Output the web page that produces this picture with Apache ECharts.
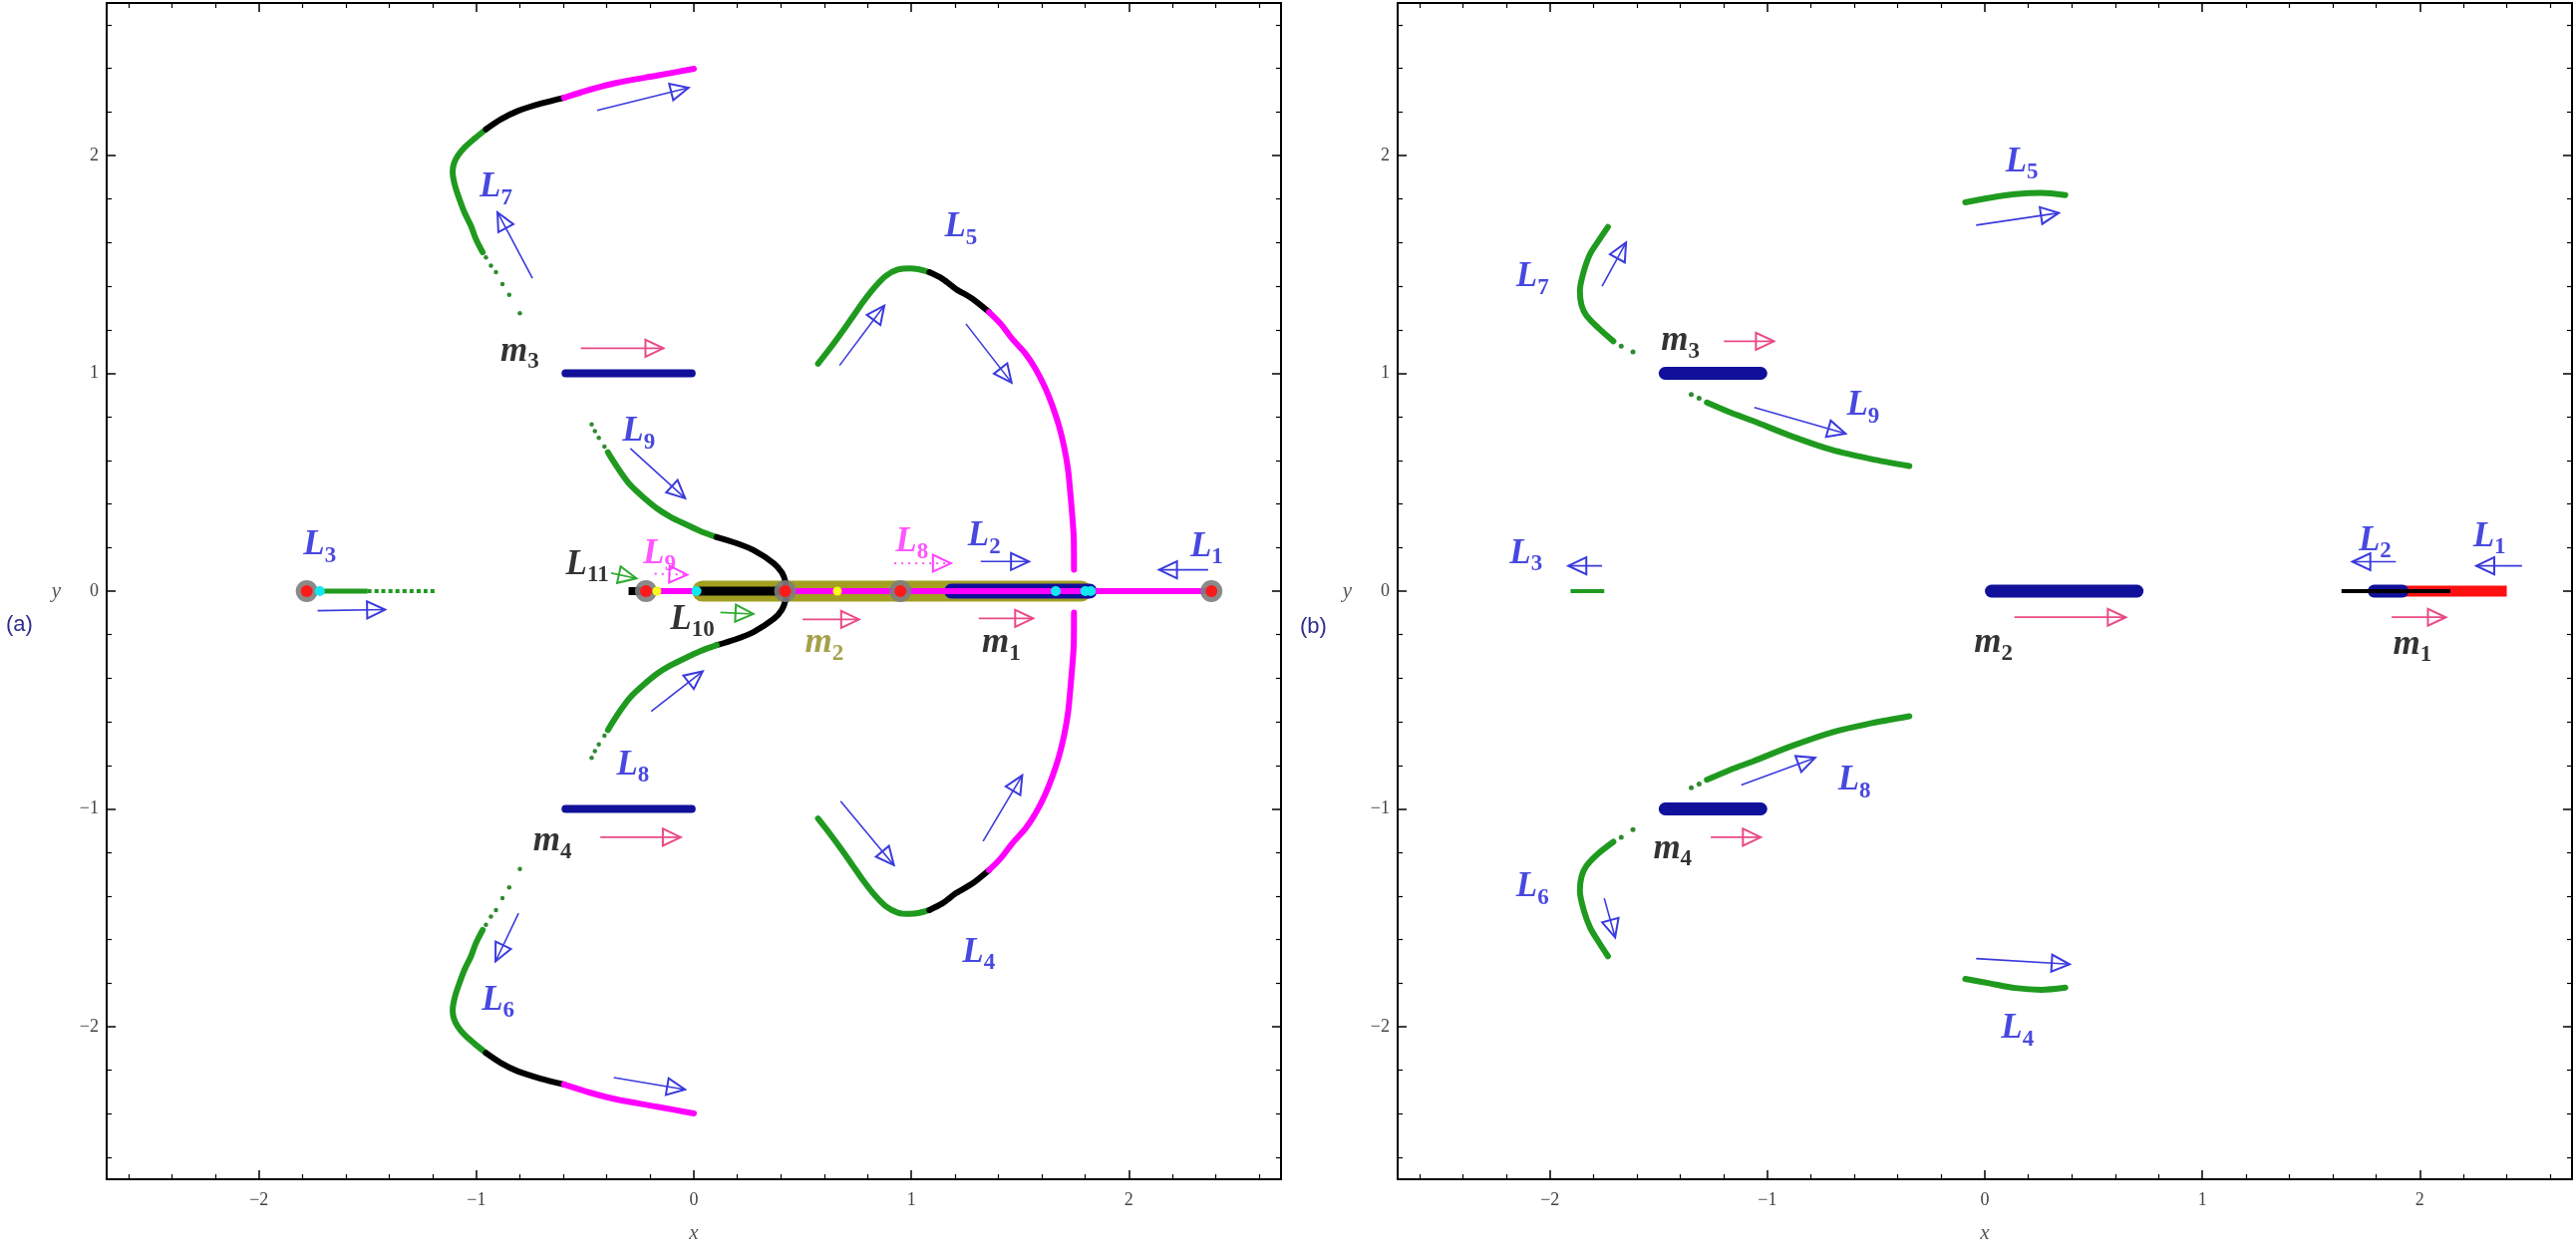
<!DOCTYPE html>
<html><head><meta charset="utf-8">
<script src="https://cdn.jsdelivr.net/npm/echarts@6/dist/echarts.min.js"></script>
<style>html,body{margin:0;padding:0;background:#fff}#c{width:2584px;height:1263px}</style>
</head><body><div id="c"></div><script>
// ---------- tick positions / labels ----------
const majorTicks = [-2, -1, 0, 1, 2];
const minorTicks = [-2.6,-2.4,-2.2,-1.8,-1.6,-1.4,-1.2,-0.8,-0.6,-0.4,-0.2,0.2,0.4,0.6,0.8,1.2,1.4,1.6,1.8,2.2,2.4,2.6];

// ---------- panel (a) curves ----------
const a_L7_dots    = [[-0.80,1.276],[-0.849,1.36],[-0.88,1.41],[-0.91,1.464],[-0.933,1.494],[-0.956,1.532]];
const a_L7_green   = [[-0.971,1.555],[-1.002,1.616],[-1.025,1.677],[-1.055,1.739],[-1.078,1.80],[-1.098,1.86],[-1.109,1.922],[-1.104,1.96],[-1.086,1.998],[-1.055,2.036],[-1.009,2.077],[-0.956,2.12]];
const a_L7_black   = [[-0.956,2.12],[-0.887,2.166],[-0.81,2.204],[-0.704,2.238],[-0.597,2.265]];
const a_L7_magenta = [[-0.597,2.265],[-0.475,2.303],[-0.353,2.334],[-0.169,2.367],[0.0,2.398]];
const a_L6_dots    = [[-0.80,-1.276],[-0.849,-1.36],[-0.88,-1.41],[-0.91,-1.464],[-0.933,-1.494],[-0.956,-1.532]];
const a_L6_green   = [[-0.971,-1.555],[-1.002,-1.616],[-1.025,-1.677],[-1.055,-1.739],[-1.078,-1.80],[-1.098,-1.86],[-1.109,-1.922],[-1.104,-1.96],[-1.086,-1.998],[-1.055,-2.036],[-1.009,-2.077],[-0.956,-2.12]];
const a_L6_black   = [[-0.956,-2.12],[-0.887,-2.166],[-0.81,-2.204],[-0.704,-2.238],[-0.597,-2.265]];
const a_L6_magenta = [[-0.597,-2.265],[-0.475,-2.303],[-0.353,-2.334],[-0.169,-2.367],[0.0,-2.398]];
const a_L9_dots    = [[-0.47,0.765],[-0.455,0.735],[-0.437,0.704],[-0.411,0.663]];
const a_L9_green   = [[-0.395,0.638],[-0.383,0.617],[-0.338,0.548],[-0.292,0.487],[-0.23,0.429],[-0.17,0.38],[-0.109,0.342],[-0.047,0.311],[0.029,0.276],[0.105,0.248]];
const a_L10_black  = [[0.105,0.248],[0.19,0.222],[0.274,0.188],[0.367,0.128],[0.405,0.085],[0.422,0.04],[0.426,0],[0.422,-0.04],[0.405,-0.085],[0.367,-0.128],[0.274,-0.188],[0.19,-0.222],[0.105,-0.248]];
const a_L8_green   = [[0.105,-0.248],[0.029,-0.276],[-0.047,-0.311],[-0.109,-0.342],[-0.17,-0.38],[-0.23,-0.429],[-0.292,-0.487],[-0.338,-0.548],[-0.383,-0.617],[-0.395,-0.638]];
const a_L8_dots    = [[-0.411,-0.663],[-0.437,-0.704],[-0.455,-0.735],[-0.47,-0.765]];
const a_L5_green   = [[0.571,1.044],[0.625,1.113],[0.670,1.174],[0.724,1.25],[0.777,1.326],[0.831,1.395],[0.884,1.448],[0.938,1.476],[0.991,1.482],[1.037,1.477],[1.083,1.464]];
const a_L5_black   = [[1.083,1.464],[1.144,1.433],[1.205,1.387],[1.281,1.342],[1.357,1.281]];
const a_L5_magenta = [[1.357,1.281],[1.411,1.227],[1.464,1.158],[1.525,1.09],[1.571,1.021],[1.614,0.937],[1.648,0.853],[1.678,0.762],[1.701,0.67],[1.72,0.563],[1.732,0.441],[1.741,0.334],[1.747,0.243],[1.748,0.098]];
const a_L4_green   = [[0.571,-1.044],[0.625,-1.113],[0.670,-1.174],[0.724,-1.25],[0.777,-1.326],[0.831,-1.395],[0.884,-1.448],[0.938,-1.476],[0.991,-1.482],[1.037,-1.477],[1.083,-1.464]];
const a_L4_black   = [[1.083,-1.464],[1.144,-1.433],[1.205,-1.387],[1.281,-1.342],[1.357,-1.281]];
const a_L4_magenta = [[1.357,-1.281],[1.411,-1.227],[1.464,-1.158],[1.525,-1.09],[1.571,-1.021],[1.614,-0.937],[1.648,-0.853],[1.678,-0.762],[1.701,-0.67],[1.72,-0.563],[1.732,-0.441],[1.741,-0.334],[1.747,-0.243],[1.748,-0.098]];
const a_L3_solid   = [[-1.74,0],[-1.50,0]];
const a_L3_dashed  = [[-1.50,0],[-1.18,0]];
const a_m3         = [[-0.59,1],[-0.01,1]];
const a_m4         = [[-0.59,-1],[-0.01,-1]];
const a_m2_band    = [[0.04,0],[1.78,0]];
const a_m1_band    = [[1.185,0],[1.82,0]];
const a_axisMag    = [[-0.22,0],[2.38,0]];
const a_blackSeg   = [[0.02,0],[0.40,0]];
const a_blackStub  = [[-0.30,0],[-0.23,0]];
const a_eqPts      = [[-1.78,0],[-0.22,0],[0.42,0],[0.95,0],[2.38,0]];
const a_cyanPts    = [[-1.72,0],[0.012,0],[1.664,0],[1.80,0],[1.825,0]];
const a_yellowPts  = [[-0.17,0],[0.66,0]];

// labels: [x, y, main, subscript]
const a_lblBlue  = [[-0.91,1.853,'L','7'],[1.228,1.67,'L','5'],[-0.253,0.731,'L','9'],[-0.28,-0.80,'L','8'],[-0.90,-1.88,'L','6'],[1.31,-1.66,'L','4'],[-1.72,0.21,'L','3'],[1.335,0.25,'L','2'],[2.358,0.203,'L','1']];
const a_lblBlack = [[-0.49,0.12,'L','11'],[-0.007,-0.131,'L','10'],[-0.80,1.10,'m','3'],[-0.65,-1.15,'m','4'],[1.414,-0.24,'m','1']];
const a_lblMag   = [[-0.158,0.17,'L','9'],[1.003,0.226,'L','8']];
const a_lblOlive = [[0.60,-0.24,'m','2']];

// arrows: [x1, y1, x2, y2]
const a_arrBlue = [[-0.445,2.207,-0.024,2.311],[-0.742,1.436,-0.903,1.739],[-0.292,0.655,-0.04,0.426],[-0.196,-0.552,0.041,-0.368],
  [-0.806,-1.479,-0.912,-1.70],[-0.368,-2.233,-0.041,-2.288],[0.670,1.036,0.876,1.311],[1.251,1.227,1.461,0.957],
  [0.675,-0.964,0.92,-1.258],[1.33,-1.148,1.51,-0.846],[-1.73,-0.09,-1.42,-0.085],[1.319,0.136,1.541,0.136],[2.365,0.098,2.139,0.098]];
const a_arrPink = [[-0.52,1.115,-0.14,1.115],[-0.43,-1.13,-0.06,-1.13],[0.50,-0.13,0.76,-0.13],[1.31,-0.125,1.56,-0.125]];
const a_arrMagDotted = [[0.922,0.128,1.182,0.128],[-0.18,0.08,-0.03,0.075]];
const a_arrGreen = [[-0.38,0.083,-0.264,0.058],[0.122,-0.098,0.274,-0.105]];

// ---------- panel (b) ----------
const b_L5 = [[-0.09,1.785],[0.02,1.805],[0.14,1.822],[0.26,1.828],[0.37,1.818]];
const b_L4 = [[-0.09,-1.78],[0.02,-1.80],[0.14,-1.822],[0.26,-1.83],[0.37,-1.82]];
const b_L7 = [[-1.733,1.672],[-1.775,1.61],[-1.815,1.548],[-1.845,1.465],[-1.862,1.38],[-1.855,1.315],[-1.833,1.267],[-1.78,1.211],[-1.708,1.147]];
const b_L7_dots = [[-1.672,1.125],[-1.618,1.098]];
const b_L6 = [[-1.733,-1.676],[-1.775,-1.612],[-1.815,-1.545],[-1.845,-1.462],[-1.862,-1.376],[-1.855,-1.312],[-1.833,-1.263],[-1.78,-1.207],[-1.708,-1.151]];
const b_L6_dots = [[-1.672,-1.13],[-1.618,-1.095]];
const b_L9 = [[-1.278,0.866],[-1.17,0.82],[-1.063,0.78],[-0.885,0.71],[-0.705,0.649],[-0.525,0.607],[-0.347,0.574]];
const b_L9_dots = [[-1.35,0.903],[-1.314,0.885]];
const b_L8 = [[-1.278,-0.866],[-1.17,-0.82],[-1.063,-0.78],[-0.885,-0.71],[-0.705,-0.649],[-0.525,-0.607],[-0.347,-0.574]];
const b_L8_dots = [[-1.35,-0.903],[-1.314,-0.885]];
const b_L3 = [[-1.905,0],[-1.75,0]];
const b_m3 = [[-1.47,1],[-1.03,1]];
const b_m4 = [[-1.47,-1],[-1.03,-1]];
const b_m2 = [[0.03,0],[0.70,0]];
const b_m1_red   = [[1.92,0],[2.40,0]];
const b_m1_blue  = [[1.79,0],[1.92,0]];
const b_m1_black = [[1.64,0],[2.14,0]];

const b_lblBlue  = [[0.17,1.97,'L','5'],[0.15,-2.01,'L','4'],[-2.08,1.44,'L','7'],[-2.08,-1.36,'L','6'],[-0.56,0.85,'L','9'],[-0.60,-0.87,'L','8'],[-2.11,0.17,'L','3'],[1.794,0.229,'L','2'],[2.32,0.247,'L','1']];
const b_lblBlack = [[-1.40,1.147,'m','3'],[-1.436,-1.185,'m','4'],[0.04,-0.24,'m','2'],[1.966,-0.247,'m','1']];

const b_arrBlue = [[-0.04,1.68,0.34,1.736],[-0.04,-1.687,0.39,-1.713],[-1.76,1.40,-1.65,1.60],[-1.75,-1.41,-1.70,-1.59],
  [-1.06,0.843,-0.64,0.723],[-1.12,-0.89,-0.78,-0.765],[-1.76,0.116,-1.915,0.116],[1.89,0.135,1.69,0.135],[2.47,0.116,2.26,0.116]];
const b_arrPink = [[-1.20,1.147,-0.97,1.147],[-1.26,-1.13,-1.03,-1.13],[0.136,-0.12,0.648,-0.12],[1.87,-0.12,2.12,-0.12]];

// ---------- styling ----------
const GREEN = '#1f9a1f', MAG = '#ff00ff', NAVY = '#10109a', OLIVE = '#a29f22';
const BLUE_TXT = '#1a1ad8', BLUE_ARR = '#3a3ade', PINK = '#ea4a86';
const SERIF = '"Liberation Serif", "Times New Roman", serif';

const fmt = v => (v < 0 ? '\u2212' + Math.abs(v) : String(v));

function axesX(g) {
  const c = {type:'value', min:-2.7, max:2.7, gridIndex:g, splitLine:{show:false}, silent:true};
  const lineOn = {show:true, onZero:false, lineStyle:{color:'#000', width:2}};
  const lineOff = {show:false, onZero:false};
  return [
    Object.assign({}, c, {position:'bottom', axisLine:lineOn,
      axisTick:{show:true, inside:true, length:9, customValues:majorTicks, lineStyle:{color:'#000', width:1.5}},
      axisLabel:{show:true, customValues:majorTicks, formatter:fmt, fontFamily:SERIF, fontSize:18, color:'#444', margin:12},
      name:'x', nameLocation:'middle', nameGap:44,
      nameTextStyle:{fontFamily:SERIF, fontStyle:'italic', fontSize:21, color:'#555'}}),
    Object.assign({}, c, {position:'bottom', axisLine:lineOff,
      axisTick:{show:true, inside:true, length:5, customValues:minorTicks, lineStyle:{color:'#000', width:1.2}}, axisLabel:{show:false}}),
    Object.assign({}, c, {position:'top', axisLine:lineOn,
      axisTick:{show:true, inside:true, length:9, customValues:majorTicks, lineStyle:{color:'#000', width:1.5}}, axisLabel:{show:false}}),
    Object.assign({}, c, {position:'top', axisLine:lineOff,
      axisTick:{show:true, inside:true, length:5, customValues:minorTicks, lineStyle:{color:'#000', width:1.2}}, axisLabel:{show:false}})
  ];
}
function axesY(g) {
  const c = {type:'value', min:-2.7, max:2.7, gridIndex:g, splitLine:{show:false}, silent:true};
  const lineOn = {show:true, onZero:false, lineStyle:{color:'#000', width:2}};
  const lineOff = {show:false, onZero:false};
  return [
    Object.assign({}, c, {position:'left', axisLine:lineOn,
      axisTick:{show:true, inside:true, length:9, customValues:majorTicks, lineStyle:{color:'#000', width:1.5}},
      axisLabel:{show:true, customValues:majorTicks, formatter:fmt, fontFamily:SERIF, fontSize:18, color:'#444', margin:8},
      name:'y', nameLocation:'middle', nameRotate:0, nameGap:46,
      nameTextStyle:{fontFamily:SERIF, fontStyle:'italic', fontSize:21, color:'#555'}}),
    Object.assign({}, c, {position:'left', axisLine:lineOff,
      axisTick:{show:true, inside:true, length:5, customValues:minorTicks, lineStyle:{color:'#000', width:1.2}}, axisLabel:{show:false}}),
    Object.assign({}, c, {position:'right', axisLine:lineOn,
      axisTick:{show:true, inside:true, length:9, customValues:majorTicks, lineStyle:{color:'#000', width:1.5}}, axisLabel:{show:false}}),
    Object.assign({}, c, {position:'right', axisLine:lineOff,
      axisTick:{show:true, inside:true, length:5, customValues:minorTicks, lineStyle:{color:'#000', width:1.2}}, axisLabel:{show:false}})
  ];
}

const series = [];
function ax(p) { return {xAxisIndex: p*4, yAxisIndex: p*4}; }
function line(p, data, color, width, extra) {
  series.push(Object.assign({type:'line', data, showSymbol:false, symbol:'none', smooth:0.3, silent:true, animation:false,
    lineStyle:Object.assign({color, width, cap:'round', join:'round'}, extra || {})}, ax(p)));
}
function dots(p, data, color, size, z) {
  series.push(Object.assign({type:'scatter', data, symbolSize:size, silent:true, animation:false, z: z || 2,
    itemStyle:{color, opacity:1}}, ax(p)));
}
function labels(p, data, color) {
  series.push(Object.assign({type:'scatter', silent:true, animation:false, z:5, symbolSize:1,
    itemStyle:{color:'rgba(0,0,0,0)'},
    data: data.map(d => ({value:[d[0], d[1]], name: d[2] + '|' + d[3]})),
    label:{show:true, position:'inside',
      formatter: prm => { const s = prm.name.split('|'); return '{m|' + s[0] + '}{s|' + s[1] + '}'; },
      rich:{
        m:{fontFamily:SERIF, fontStyle:'italic', fontWeight:'bold', fontSize:35, color, lineHeight:44, verticalAlign:'middle'},
        s:{fontFamily:SERIF, fontWeight:'bold', fontSize:23, color, lineHeight:23, verticalAlign:'bottom'}
      }}}, ax(p)));
}
function arrows(p, data, color, lw, dashed) {
  series.push(Object.assign({type:'custom', silent:true, animation:false, z:4, data,
    encode:{x:[0,2], y:[1,3]},
    renderItem: (params, api) => {
      const p1 = api.coord([api.value(0), api.value(1)]);
      const p2 = api.coord([api.value(2), api.value(3)]);
      const dx = p2[0]-p1[0], dy = p2[1]-p1[1];
      const len = Math.hypot(dx, dy) || 1, ux = dx/len, uy = dy/len;
      const hl = 18, hw = 8.5;
      const bx = p2[0]-ux*hl, by = p2[1]-uy*hl;
      const c1 = [bx - uy*hw, by + ux*hw], c2 = [bx + uy*hw, by - ux*hw];
      return {type:'group', children:[
        {type:'line', shape:{x1:p1[0], y1:p1[1], x2:p2[0], y2:p2[1]},
          style:{stroke:color, lineWidth:lw, lineDash: dashed ? [2,5] : null, fill:null}},
        {type:'polygon', shape:{points:[p2, c1, c2]}, style:{fill:'rgba(0,0,0,0)', stroke:color, lineWidth:2}}
      ]};
    }}, ax(p)));
}

// ---- panel (a) ----
line(0, a_m2_band, OLIVE, 21);
line(0, a_m1_band, NAVY, 15);
line(0, a_axisMag, MAG, 6, {cap:'butt'});
line(0, a_blackSeg, '#000', 9, {cap:'butt'});
line(0, a_blackStub, '#000', 8, {cap:'butt'});
line(0, a_L3_solid, GREEN, 5, {cap:'butt'});
line(0, a_L3_dashed, GREEN, 4, {cap:'butt', type:[4,3]});
line(0, a_m3, NAVY, 8);
line(0, a_m4, NAVY, 8);
[[a_L7_green,GREEN],[a_L7_black,'#000'],[a_L7_magenta,MAG],[a_L6_green,GREEN],[a_L6_black,'#000'],[a_L6_magenta,MAG],
 [a_L9_green,GREEN],[a_L10_black,'#000'],[a_L8_green,GREEN],
 [a_L5_green,GREEN],[a_L5_black,'#000'],[a_L5_magenta,MAG],[a_L4_green,GREEN],[a_L4_black,'#000'],[a_L4_magenta,MAG]]
 .forEach(([d,c]) => line(0, d, c, 6));
[a_L7_dots, a_L6_dots, a_L9_dots, a_L8_dots].forEach(d => dots(0, d, '#2f8a2f', 4.5));
dots(0, a_eqPts, 'rgba(125,125,125,0.9)', 22, 3);
dots(0, a_eqPts, '#ff1a1a', 12, 3);
dots(0, a_cyanPts, '#10e8f0', 10, 3);
dots(0, a_yellowPts, '#ffff10', 9, 3);
arrows(0, a_arrBlue, BLUE_ARR, 1.6, false);
arrows(0, a_arrPink, PINK, 1.8, false);
arrows(0, a_arrMagDotted, '#ff40ff', 1.8, true);
arrows(0, a_arrGreen, '#2faa2f', 1.6, false);
labels(0, a_lblBlue, BLUE_TXT);
labels(0, a_lblBlack, '#000');
labels(0, a_lblMag, '#ff2cff');
labels(0, a_lblOlive, '#8e8a1c');

// ---- panel (b) ----
[b_L5, b_L4, b_L7, b_L6, b_L9, b_L8].forEach(d => line(1, d, GREEN, 6));
line(1, b_L3, GREEN, 4, {cap:'butt'});
[b_L7_dots, b_L6_dots, b_L9_dots, b_L8_dots].forEach(d => dots(1, d, '#2f8a2f', 5));
line(1, b_m3, NAVY, 13);
line(1, b_m4, NAVY, 13);
line(1, b_m2, NAVY, 13);
line(1, b_m1_red, '#ff1010', 11, {cap:'butt'});
line(1, b_m1_blue, NAVY, 13);
line(1, b_m1_black, '#000', 4, {cap:'butt'});
arrows(1, b_arrBlue, BLUE_ARR, 1.6, false);
arrows(1, b_arrPink, PINK, 1.8, false);
labels(1, b_lblBlue, BLUE_TXT);
labels(1, b_lblBlack, '#000');

const chart = echarts.init(document.getElementById('c'), null, {renderer:'canvas'});
chart.setOption({
  animation:false,
  backgroundColor:'#ffffff',
  grid:[{left:107, top:3, width:1178, height:1180}, {left:1402, top:3, width:1178, height:1180}],
  xAxis:[...axesX(0), ...axesX(1)],
  yAxis:[...axesY(0), ...axesY(1)],
  graphic:[
    {type:'text', left:6, top:616, style:{text:'(a)', font:'22px "Liberation Sans", Arial, sans-serif', fill:'#2c2c8c'}},
    {type:'text', left:1304, top:618, style:{text:'(b)', font:'22px "Liberation Sans", Arial, sans-serif', fill:'#2c2c8c'}}
  ],
  series
});
</script></body></html>
